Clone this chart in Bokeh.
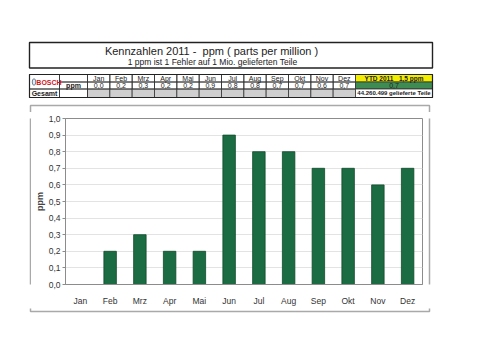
from bokeh.plotting import figure
from bokeh.layouts import column, row
from bokeh.models import Range1d, FactorRange, FixedTicker
from bokeh.core.properties import value
from bokeh.embed import file_html
from bokeh.resources import INLINE

# ---------------- data ----------------
months = ["Jan", "Feb", "Mrz", "Apr", "Mai", "Jun", "Jul", "Aug", "Sep", "Okt", "Nov", "Dez"]
ppm = [0.0, 0.2, 0.3, 0.2, 0.2, 0.9, 0.8, 0.8, 0.7, 0.7, 0.6, 0.7]
ppm_text = ["0,0", "0,2", "0,3", "0,2", "0,2", "0,9", "0,8", "0,8", "0,7", "0,7", "0,6", "0,7"]
y_ticks = [0.0, 0.1, 0.2, 0.3, 0.4, 0.5, 0.6, 0.7, 0.8, 0.9, 1.0]
y_tick_labels = ["0,0", "0,1", "0,2", "0,3", "0,4", "0,5", "0,6", "0,7", "0,8", "0,9", "1,0"]
title_text = "Kennzahlen 2011 -\u00a0 ppm ( parts per million )"
subtitle_text = "1 ppm ist 1 Fehler auf 1 Mio. gelieferten Teile"
ytd_header = "YTD 2011\u00a0\u00a0 1,5 ppm"
ytd_value = "0,7"
delivered_text = "44.260.499 gelieferte Teile"
row_label = "ppm"
total_label = "Gesamt"
brand = "BOSCH"
y_label = "ppm"

FONT = "Liberation Sans"

# ---------------- page layout (pixels) ----------------
W, H = 500, 355
HEAD_H, MID_H = 112, 196
BOT_H = H - HEAD_H - MID_H
LEFT_W, CHART_W = 31, 394
RIGHT_W = W - LEFT_W - CHART_W

# decoration primitives in page pixel coordinates
rects = []   # (l, r, t, b, fill, line, lw)
texts = []   # (x, y, text, size, color, style)

def rect(l, r, t, b, fill=None, line="#333333", lw=0.8):
    rects.append((l, r, t, b, fill, line, lw))

def txt(x, y, s, size="7px", color="#222222", style="normal"):
    texts.append((x, y, s, size, color, style))

# chart box
rect(30, 429, 105, 311, line="#a9a9a9", lw=1.5)
# title box
rect(29, 432, 42, 67.5, line="#222222", lw=1.4)
txt(211, 50.5, title_text, size="11px")
txt(212, 61.5, subtitle_text, size="8.5px")

# table
r0, r1, r2, r3 = 74, 81.5, 88.5, 97
c0, c1, c2, c3 = 29, 59, 87, 355
mw = (c3 - c2) / len(months)
for i, m in enumerate(months):
    xl = c2 + i * mw
    rect(xl, xl + mw, r2, r3, fill="#cfcfcf")
    rect(xl, xl + mw, r0, r1)
    rect(xl, xl + mw, r1, r2)
    txt(xl + mw / 2, (r0 + r1) / 2, m)
    txt(xl + mw / 2, (r1 + r2) / 2, ppm_text[i])
rect(c0, c1, r0, r2)
rect(c0, c1, r2, r3)
rect(c1, c2, r0, r1)
rect(c1, c2, r1, r2)
rect(c1, c2, r2, r3)
rect(c3, 432, r0, r1, fill="#f3ee00")
rect(c3, 432, r1, r2, fill="#3e8c52")
rect(c3, 432, r2, r3, fill="white")
rect(c0, 432, r0, r3, line="#222222", lw=1.2)
txt(393.5, (r0 + r1) / 2, ytd_header, size="6.5px", style="bold")
txt(393.5, (r1 + r2) / 2, ytd_value)
txt(393.5, (r2 + r3) / 2, delivered_text, size="6px", style="bold")
txt((c1 + c2) / 2, (r1 + r2) / 2, row_label, style="bold")
txt((c0 + c1) / 2, (r2 + r3) / 2, total_label, style="bold")
txt(48.5, 81.5, brand, size="7px", color="#d0141e", style="bold")


def decor_fig(x0, y0, x1, y1, with_text=False):
    f = figure(width=x1 - x0, height=y1 - y0, x_range=Range1d(x0, x1), y_range=Range1d(y1, y0),
               x_axis_type=None, y_axis_type=None, output_backend="svg",
               toolbar_location=None, min_border=0)
    f.outline_line_color = None
    f.background_fill_color = "white"
    f.border_fill_color = "white"
    for g in f.grid:
        g.visible = False
    for (l, r, t, b, fill, line, lw) in rects:
        f.quad(left=l, right=r, top=t, bottom=b, fill_color=fill, line_color=line, line_width=lw)
    if with_text:
        f.ellipse(x=33.5, y=81.5, width=3.5, height=6.5, fill_color="#e4eaf2",
                  line_color="#50647e", line_width=0.8)
        for (x, y, s, size, color, style) in texts:
            f.text(x=[x], y=[y], text=[s], text_font=value(FONT), text_font_size=size,
                   text_color=color, text_font_style=style, text_align="center",
                   text_baseline="middle")
    return f

header = decor_fig(0, 0, W, HEAD_H, with_text=True)
left = decor_fig(0, HEAD_H, LEFT_W, HEAD_H + MID_H)
right = decor_fig(LEFT_W + CHART_W, HEAD_H, W, HEAD_H + MID_H)
bottom = decor_fig(0, HEAD_H + MID_H, W, H)

# ---------------- chart ----------------
p = figure(width=CHART_W, height=MID_H, x_range=FactorRange(*months), y_range=Range1d(0, 1.0),
           output_backend="svg", toolbar_location=None,
           min_border_left=34, min_border_right=3, min_border_top=6, min_border_bottom=21)
p.background_fill_color = "white"
p.border_fill_color = "white"
p.outline_line_color = "#8c8c8c"
p.outline_line_width = 1

p.vbar(x=months, top=ppm, width=0.42, fill_color="#1b6c42", line_color="#0f4a2b", line_width=0.8)

p.xgrid.grid_line_color = None
p.ygrid.grid_line_color = "#e3e3e3"
p.ygrid.ticker = FixedTicker(ticks=y_ticks)

p.yaxis.ticker = FixedTicker(ticks=y_ticks)
p.yaxis.major_label_overrides = {t: l for t, l in zip(y_ticks, y_tick_labels)}
p.yaxis.axis_label = y_label
p.yaxis.axis_label_text_font = FONT
p.yaxis.axis_label_text_font_style = "bold"
p.yaxis.axis_label_text_font_size = "9px"
p.yaxis.axis_label_standoff = 1
p.yaxis.minor_tick_line_color = None
p.yaxis.major_tick_out = 3
p.yaxis.major_tick_in = 0
p.yaxis.major_label_standoff = 2
for ax in (p.xaxis, p.yaxis):
    ax.axis_line_color = "#8c8c8c"
    ax.major_tick_line_color = "#8c8c8c"
    ax.major_label_text_font = FONT
    ax.major_label_text_font_size = "8.5px"
    ax.major_label_text_color = "#333333"
p.xaxis.major_tick_line_color = None
p.xaxis.major_label_standoff = 5

layout = column(header, row(left, p, right), bottom)

open("out.html", "w").write(file_html(layout, INLINE))
